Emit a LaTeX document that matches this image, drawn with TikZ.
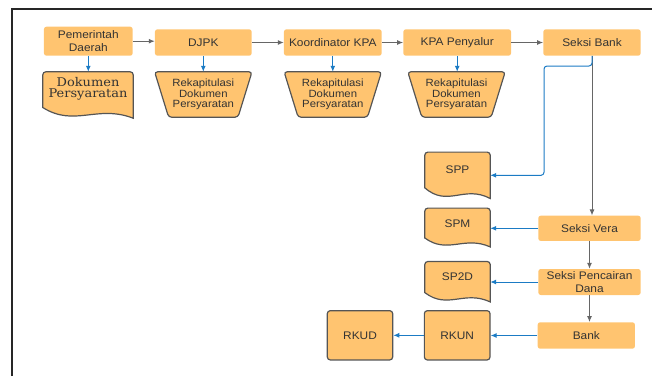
\documentclass[tikz,border=0pt]{standalone}
\usepackage{fontspec}
\setmainfont{Liberation Sans}[FakeStretch=1.08]
\newfontfamily\serifdoc{DejaVu Serif}[FakeStretch=1.08]
\usetikzlibrary{arrows.meta,calc,backgrounds}
\definecolor{boxfill}{HTML}{FFC470}
\definecolor{edge}{HTML}{555555}
\definecolor{txt}{HTML}{333333}
\definecolor{arrgray}{HTML}{666666}
\definecolor{arrblue}{HTML}{1B7BC4}
\newcommand\boxfont{\fontsize{11}{12.4}\selectfont}
\newcommand\rekfont{\fontsize{10.5}{10.4}\selectfont}
\newcommand\docoutline[1]{%
  \draw[shapeline] let \p1=(#1.north west), \p2=(#1.south east) in
   (\x1,{\y2+0.23*(\y1-\y2)}) [rounded corners=3pt]-- (\x1,\y1) -- (\x2,\y1) [sharp corners]-- (\x2,\y2)
   .. controls ({\x1+0.6*(\x2-\x1)},{\y2+0.3*(\y1-\y2)}) and ({\x1+0.35*(\x2-\x1)},{\y2-0.2*(\y1-\y2)}) .. (\x1,{\y2+0.23*(\y1-\y2)}) -- cycle;}
\newcommand\trapoutline[1]{%
  \draw[shapeline, rounded corners=3pt] let \p1=(#1.north west), \p2=(#1.south east) in
   (\x1,\y1) -- (\x2,\y1) -- ({\x2-14pt},\y2) -- ({\x1+14pt},\y2) -- cycle;}
\begin{document}
\begin{tikzpicture}[x=1pt,y=-1pt,
  proc/.style={fill=boxfill, rounded corners=2.5pt, inner sep=0pt, align=center, text=txt, font=\boxfont},
  framed/.style={proc, draw=edge, line width=1.2pt, rounded corners=3pt},
  hold/.style={inner sep=0pt},
  lbl/.style={inner sep=0pt, align=center, text=txt, font=\boxfont},
  trapbox/.style={inner sep=0pt, align=center, text=txt, font=\rekfont, minimum width=97pt, minimum height=45pt},
  shapeline/.style={fill=boxfill, draw=edge, line width=1.2pt},
  grayarr/.style={draw=arrgray, line width=1pt, -{Latex[length=6pt,width=5pt]}},
  bluearr/.style={draw=arrblue, line width=1pt, -{Latex[length=6pt,width=5pt]}},
]
\useasboundingbox (0,0) rectangle (652,376);
\draw[line width=2pt, black!85] (12,376) -- (12,8.5) -- (652,8.5);

% top row
\node[proc, minimum width=88.7pt, minimum height=29pt] (pd) at (88.3,41.2) {Pemerintah\\Daerah};
\node[proc, minimum width=96.7pt, minimum height=26.4pt] (djpk) at (203.3,42.5) {DJPK};
\node[proc, minimum width=97.7pt, minimum height=26.4pt] (kk) at (332.8,42.5) {Koordinator KPA};
\node[proc, minimum width=107.7pt, minimum height=26.4pt] (kp) at (457.2,42.5) {KPA Penyalur};
\node[proc, minimum width=97.3pt, minimum height=26.4pt] (sb) at (592,42.5) {Seksi Bank};

% documents row
\node[hold, minimum width=90pt, minimum height=46pt] (dok) at (88,95) {};
\node[trapbox] (r1) at (203.3,94.5) {Rekapitulasi\\Dokumen\\Persyaratan};
\node[trapbox] (r2) at (332.8,94.5) {Rekapitulasi\\Dokumen\\Persyaratan};
\node[trapbox] (r3) at (456.5,94.5) {Rekapitulasi\\Dokumen\\Persyaratan};

% right column
\node[proc, minimum width=102.4pt, minimum height=25.3pt] (sv) at (589.5,228.3) {Seksi Vera};
\node[proc, minimum width=102.4pt, minimum height=26pt] (spc) at (589.5,282) {Seksi Pencairan\\Dana};
\node[proc, minimum width=97.3pt, minimum height=26.4pt] (bank) at (586.3,335.5) {Bank};

% documents column
\node[hold, minimum width=65pt, minimum height=46pt] (spp) at (457.5,175.3) {};
\node[hold, minimum width=65pt, minimum height=38.4pt] (spm) at (457.5,227.5) {};
\node[hold, minimum width=65pt, minimum height=40pt] (sp2d) at (457.5,281.7) {};
\node[framed, minimum width=65.7pt, minimum height=49.3pt] (rkun) at (457.2,335.3) {RKUN};
\node[framed, minimum width=65.4pt, minimum height=49.3pt] (rkud) at (360,335.3) {RKUD};

\begin{pgfonlayer}{background}
  \docoutline{dok}
  \docoutline{spp}
  \docoutline{spm}
  \docoutline{sp2d}
  \trapoutline{r1}
  \trapoutline{r2}
  \trapoutline{r3}
\end{pgfonlayer}

% document texts
\node[lbl, font=\serifdoc\fontsize{12}{11.7}\selectfont] (dok-t) at (88,88.8) {Dokumen\\Persyaratan};
\node[lbl] (spp-t) at (457.5,170) {SPP};
\node[lbl] (spm-t) at (457.5,224) {SPM};
\node[lbl] (sp2d-t) at (457.5,276.7) {SP2D};

% gray flow arrows
\draw[grayarr] (pd.east) -- (pd.east -| djpk.west);
\draw[grayarr] (djpk.east) -- (kk.west);
\draw[grayarr] (kk.east) -- (kp.west);
\draw[grayarr] (kp.east) -- (sb.west);
\draw[grayarr] (sb.south) -- (sb.south |- sv.north);
\draw[grayarr] (sv.south) -- (spc.north);
\draw[grayarr] (spc.south) -- (spc.south |- bank.north);

% blue output arrows
\draw[bluearr] (pd.south) -- (pd.south |- dok.north);
\draw[bluearr] (djpk.south) -- (r1.north);
\draw[bluearr] (kk.south) -- (r2.north);
\draw[bluearr] (kp.south) -- (kp.south |- r3.north);
\coordinate (bend) at (544,66);
\draw[bluearr, rounded corners=3pt] (sb.south) |- (bend) |- (spp.east);
\draw[bluearr] (sv.west) -- (sv.west -| spm.east);
\draw[bluearr] (spc.west) -- (spc.west -| sp2d.east);
\draw[bluearr] (bank.west) -- (bank.west -| rkun.east);
\draw[bluearr] (rkun.west) -- (rkud.east);
\end{tikzpicture}
\end{document}
